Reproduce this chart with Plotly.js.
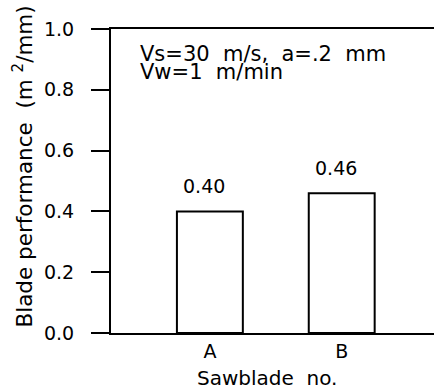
<!DOCTYPE html>
<html>
<head>
<meta charset="utf-8">
<script src="https://cdn.plot.ly/plotly-3.0.1.min.js"></script>
<style>html,body{margin:0;padding:0;background:#fff;}#chart{width:434px;height:389px;}</style>
</head>
<body>
<div id="chart"></div>
<script>
const NB = "\u00a0";
const categories = ["A", "B"];
const performance = [0.40, 0.46];
const valueLabels = ["0.40", "0.46"];
const yTickVals = [0, 0.2, 0.4, 0.6, 0.8, 1.0];
const yTickText = ["0.0", "0.2", "0.4", "0.6", "0.8", "1.0"];
const conditionLines = ["Vs=30" + NB + NB + "m/s," + NB + NB + "a=.2" + NB + NB + "mm", "Vw=1" + NB + NB + "m/min"];
const xTitle = "Sawblade" + NB + NB + "no.";
const yTitle = "Blade" + NB + "performance" + NB + NB + "(m" + NB + "<sup>2</sup>/mm)";

const font = {family: "DejaVu Sans", size: 20, color: "#000"};
const tickFont = {family: "DejaVu Sans", size: 19, color: "#000"};
const noteFont = {family: "DejaVu Sans", size: 21, color: "#000"};

const trace = {
  type: "bar",
  x: categories,
  y: performance,
  width: 0.5,
  marker: {color: "#fff", line: {color: "#000", width: 2}},
  hoverinfo: "none"
};

const annotations = [];
categories.forEach((c, i) => {
  annotations.push({
    x: c, y: performance[i], xref: "x", yref: "y",
    text: valueLabels[i], showarrow: false,
    xanchor: "center", yanchor: "bottom", yshift: 12, xshift: -6,
    font: tickFont
  });
});
annotations.push({
  x: 0.084, y: 0.918, xref: "paper", yref: "paper",
  text: conditionLines[0], showarrow: false, xanchor: "left", yanchor: "middle", font: noteFont
});
annotations.push({
  x: 0.084, y: 0.860, xref: "paper", yref: "paper",
  text: conditionLines[1], showarrow: false, xanchor: "left", yanchor: "middle", font: noteFont
});
annotations.push({
  x: -0.271, y: 0.549, xref: "paper", yref: "paper",
  text: yTitle, showarrow: false, textangle: -90, xanchor: "center", yanchor: "middle",
  font: {family: "DejaVu Sans", size: 21.5, color: "#000"}
});
annotations.push({
  x: 0.4845, y: -0.148, xref: "paper", yref: "paper",
  text: xTitle, showarrow: false, xanchor: "center", yanchor: "middle", font: font
});

const layout = {
  width: 434, height: 389,
  margin: {l: 111, r: 0, t: 29, b: 56},
  paper_bgcolor: "#fff", plot_bgcolor: "#fff",
  showlegend: false,
  font: font,
  xaxis: {
    type: "category", range: [-0.75, 1.70],
    showline: true, linecolor: "#000", linewidth: 2, mirror: true,
    ticks: "", ticklen: 0, showgrid: false, zeroline: false,
    tickfont: tickFont, ticklabelstandoff: 0, fixedrange: true
  },
  yaxis: {
    range: [0, 1.0], tickvals: yTickVals, ticktext: yTickText,
    showline: true, linecolor: "#000", linewidth: 2,
    ticks: "outside", ticklen: 18, tickwidth: 2, tickcolor: "#000",
    showgrid: false, zeroline: false,
    tickfont: tickFont, ticklabelstandoff: 13, fixedrange: true
  },
  annotations: annotations
};

Plotly.newPlot("chart", [trace], layout, {displayModeBar: false, staticPlot: true});
</script>
</body>
</html>
